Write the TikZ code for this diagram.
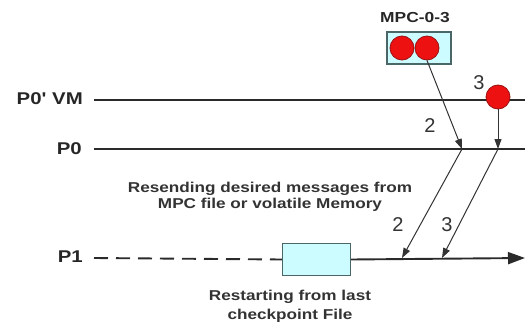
\documentclass[tikz,border=0pt]{standalone}
\usepackage{fontspec}
\setmainfont{Liberation Sans}
\newfontfamily\lblfont[FakeStretch=1.2]{Liberation Sans}
\usetikzlibrary{arrows.meta}
\definecolor{boxfill}{HTML}{CCFCFF}
\definecolor{boxline}{HTML}{4A6666}
\definecolor{dotred}{HTML}{EE1111}
\definecolor{dotline}{HTML}{991111}
\definecolor{lnc}{HTML}{2A2A2A}
\begin{document}
\begin{tikzpicture}[x=1pt,y=-1pt,
  proc/.style={font=\lblfont\bfseries\fontsize{17}{19}\selectfont, anchor=east, inner sep=0pt, text=black!85},
  note/.style={font=\lblfont\bfseries\fontsize{14.3}{16.5}\selectfont, align=center, inner sep=0pt, text=black!80},
  num/.style={font=\fontsize{20}{22}\selectfont, inner sep=0pt, text=black!80},
  tline/.style={draw=lnc, line width=1.9pt},
  msg/.style={draw=black!80, line width=1pt, -{Triangle[length=10pt,width=7pt]}},
  ckpt/.style={draw=boxline, line width=1.2pt, fill=boxfill},
  dot/.style={circle, draw=dotline, line width=0.8pt, fill=dotred, minimum size=24pt, inner sep=0pt}
]
\useasboundingbox (0,0) rectangle (525,324);

% process labels
\node[proc] (lvm) at (83,99) {P0' VM};
\node[proc] (lp0) at (82,149) {P0};
\node[proc] (lp1) at (83,257) {P1};

% timelines
\coordinate (vmS) at (94,100);
\coordinate (vmE) at (525,100);
\coordinate (p0S) at (94,149);
\coordinate (p0E) at (525,149);
\coordinate (p1S) at (94,258);
\coordinate (p1E) at (525,258);
\draw[tline] (vmS) -- (vmE);
\draw[tline] (p0S) -- (p0E);

% checkpoint box on P1
\node[ckpt, minimum width=68pt, minimum height=32pt, inner sep=0pt] (ck) at (316.5,259.5) {};
\draw[tline, dash pattern=on 14pt off 8pt] (p1S) -- (ck.west);
\draw[tline, -{Triangle[length=17pt,width=12pt]}] (ck.east) -- (p1E);

% MPC box
\node[ckpt, minimum width=64pt, minimum height=32pt, inner sep=0pt] (mpc) at (419,48) {};
\node[font=\lblfont\bfseries\fontsize{14.5}{16}\selectfont, inner sep=0pt, text=black!85] (mpcl) at (415,18) {MPC-0-3};
\node[dot] (d1) at (402,48) {};
\node[dot] (d2) at (427,48) {};
\node[dot] (d3) at (498,97) {};

% message points
\coordinate (a2) at (462,149);
\coordinate (a3) at (498,149);
\coordinate (b2) at (402,258);
\coordinate (b3) at (442,258);

\draw[msg] (d2.south) -- (a2);
\draw[msg] (d3.south) -- (a3);
\draw[msg] (a2) -- (b2);
\draw[msg] (a3) -- (b3);

% numbers
\node[num] (n2a) at (430,126) {2};
\node[num] (n3a) at (479,83) {3};
\node[num] (n2b) at (398,225) {2};
\node[num] (n3b) at (447,225) {3};

% notes
\node[note] (t1) at (270,197) {Resending desired messages from\\MPC file or volatile Memory};
\node[note, font=\lblfont\bfseries\fontsize{14.3}{19}\selectfont] (t2) at (290,306) {Restarting from last\\checkpoint File};
\end{tikzpicture}
\end{document}
